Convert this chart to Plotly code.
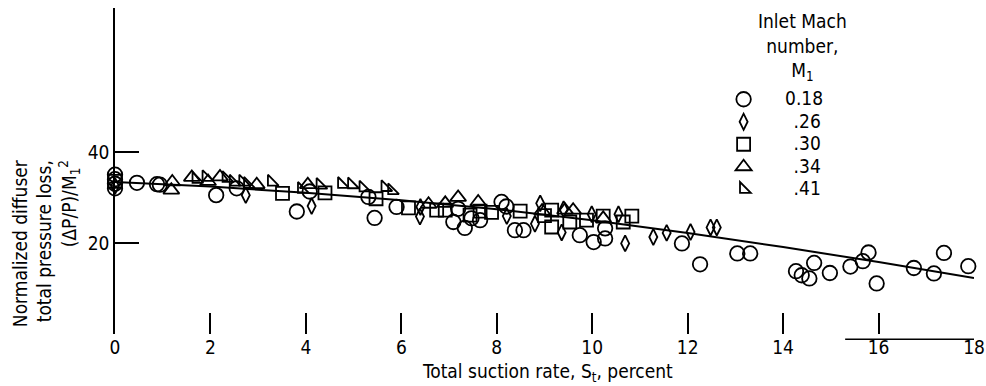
import plotly.graph_objects as go

FONT = "Liberation Sans Narrow, Arial Narrow, DejaVu Sans Condensed, sans-serif"

# ---- data ----
mach_labels = ["0.18", ".26", ".30", ".34", ".41"]

c_x = [0, 0, 0, 0, 0.46, 0.88, 0.94, 2.12, 2.55, 3.81, 4.08, 5.31, 5.44, 5.90,
       7.09, 7.19, 7.33, 7.47, 7.65, 8.10, 8.20, 8.38, 8.56, 9.74, 10.03, 10.27, 10.27,
       11.88, 12.26, 13.04, 13.31, 14.27, 14.39, 14.55, 14.65, 14.98, 15.41, 15.67,
       15.79, 15.96, 16.74, 17.16, 17.37, 17.88]
c_y = [35.0, 34.0, 33.0, 32.0, 33.2, 32.9, 32.8, 30.5, 32.0, 26.9, 31.3, 30.1, 25.5, 27.9,
       24.6, 27.5, 23.3, 25.4, 25.0, 29.0, 28.0, 22.8, 22.8, 21.7, 20.2, 21.0, 23.2,
       19.9, 15.3, 17.7, 17.7, 13.8, 12.9, 12.2, 15.6, 13.4, 14.8, 16.0,
       17.9, 11.1, 14.5, 13.3, 17.8, 14.9]

d_x = [0, 2.74, 4.12, 6.39, 6.40, 8.21, 8.80, 8.91, 9.36, 9.40, 9.99, 10.55, 10.69,
       11.28, 11.56, 12.06, 12.48, 12.61]
d_y = [32.5, 30.5, 28.1, 25.8, 27.9, 25.9, 24.2, 28.7, 22.3, 27.4, 26.3, 26.3, 19.9,
       21.3, 22.2, 22.4, 23.4, 23.4]

s_x = [0, 3.51, 4.40, 5.47, 6.15, 6.74, 6.92, 7.44, 7.65, 7.89, 8.49, 9.00, 9.15, 9.15,
       9.53, 9.88, 10.23, 10.65, 10.83]
s_y = [33.5, 30.9, 31.0, 29.7, 27.7, 27.2, 27.2, 26.1, 27.0, 26.7, 27.0, 26.0, 27.2, 23.5,
       24.6, 25.0, 25.9, 24.6, 25.9]

t_x = [1.20, 1.18, 1.61, 1.95, 2.20, 2.97, 4.04, 6.57, 6.92, 7.19, 7.61, 8.95, 9.43,
       9.60, 10.23]
t_y = [33.4, 31.6, 34.4, 33.5, 34.5, 32.8, 32.8, 28.5, 28.7, 30.0, 29.0, 27.0, 27.2,
       27.2, 25.4]

r_x = [1.70, 1.91, 2.33, 2.48, 2.68, 2.78, 3.28, 3.91, 4.30, 4.75, 4.96, 5.20, 5.66, 5.80]
r_y = [34.0, 34.4, 34.2, 33.4, 33.4, 32.9, 33.4, 31.8, 32.7, 32.9, 32.8, 32.1, 32.2, 31.5]

fair_x = [0, 2, 4, 6, 8, 10, 12, 14, 16, 18]
fair_y = [33.4, 32.4, 31.0, 29.4, 27.4, 25.0, 22.2, 19.1, 15.8, 12.3]

x_ticks = [0, 2, 4, 6, 8, 10, 12, 14, 16, 18]
y_ticks = [20, 40]

fig = go.Figure()

fig.add_trace(go.Scatter(x=fair_x, y=fair_y, mode="lines",
                         line=dict(color="black", width=2), showlegend=False,
                         hoverinfo="skip", cliponaxis=False))

series = [
    (c_x, c_y, "circle-open", 14.5),
    (d_x, d_y, "diamond-tall-open", 11.5),
    (s_x, s_y, "square-open", 13),
    (t_x, t_y, "triangle-up-open", 14),
    (r_x, r_y, "triangle-sw-open", 12),
]
NB = "\u00a0"
pads = [NB * 5, NB * 7, NB * 7, NB * 7, NB * 7]
for (xs, ys, sym, sz), lab, pad in zip(series, mach_labels, pads):
    fig.add_trace(go.Scatter(
        x=xs, y=ys, mode="markers", name=pad + '<span style="font-size:19px">' + lab + "</span>",
        marker=dict(symbol=sym, size=sz, color="black", line=dict(color="black", width=1.8)),
        cliponaxis=False))

fig.update_layout(
    width=986, height=386,
    margin=dict(l=115, r=12, t=8, b=52, autoexpand=False),
    paper_bgcolor="white", plot_bgcolor="white",
    font=dict(family=FONT, size=19, color="black"),
    showlegend=True,
    legend=dict(x=0.7085, y=0.77, xanchor="left", yanchor="top",
                bgcolor="rgba(0,0,0,0)", font=dict(size=15, family=FONT),
                itemsizing="trace", tracegroupgap=0),
    xaxis=dict(range=[0, 18], tickvals=x_ticks, ticks="inside", ticklen=21, tickwidth=1.5,
               tickcolor="black", showline=False, showgrid=False, zeroline=False,
               tickfont=dict(size=19)),
    yaxis=dict(range=[0, 71.6], tickvals=y_ticks, ticks="inside", ticklen=24, tickwidth=1.5,
               tickcolor="black", showline=True, linecolor="black", linewidth=1.5,
               showgrid=False, zeroline=False, tickfont=dict(size=19)),
    shapes=[dict(type="line", xref="x", yref="paper", x0=15.3, x1=18, y0=-0.016, y1=-0.016,
                 line=dict(color="black", width=1.5))],
    annotations=[
        dict(text="Normalized diffuser<br>total pressure loss,<br>(\u0394P/P)/M<sub>1</sub><sup>2</sup>",
             xref="paper", yref="paper", x=-0.081, y=0.28, xanchor="center", yanchor="middle",
             textangle=-90, align="right", showarrow=False, font=dict(size=19)),
        dict(text="Total suction rate, S<sub>t</sub>, percent", xref="paper", yref="paper",
             x=0.504, y=-0.117, xanchor="center", yanchor="middle", showarrow=False,
             font=dict(size=19)),
        dict(text="Inlet Mach<br>number,<br>M<sub>1</sub>", xref="paper", yref="paper",
             x=(802 - 115) / 859, y=1.0, xanchor="center", yanchor="top", showarrow=False,
             align="center", font=dict(size=19)),
    ],
)

fig.write_html("out.html")
